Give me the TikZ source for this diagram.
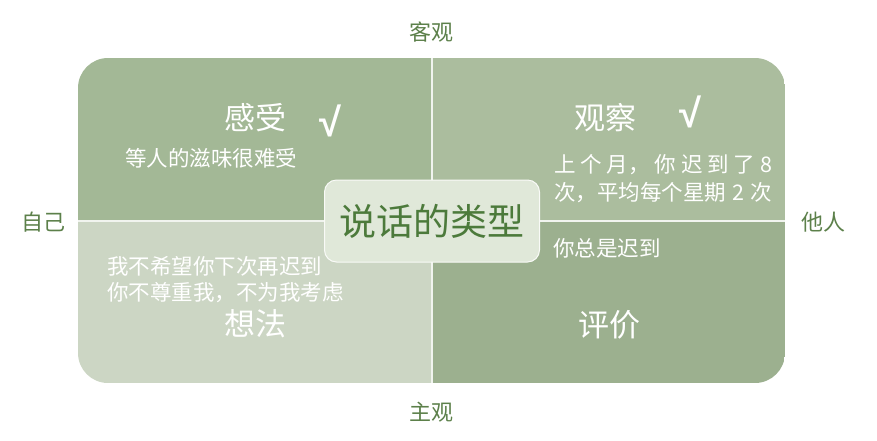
\documentclass[tikz,border=0pt]{standalone}
\usepackage{fontspec}
\setmainfont{Noto Sans CJK SC}
\newfontfamily\checkfont{Liberation Sans}
\usepackage{tikz}
\usetikzlibrary{positioning}
\definecolor{sagedark}{rgb}{0.64,0.72,0.59}
\definecolor{sagelight}{rgb}{0.67,0.74,0.62}
\definecolor{sagepale}{rgb}{0.80,0.84,0.77}
\definecolor{sagedeep}{rgb}{0.61,0.69,0.56}
\definecolor{mistgreen}{rgb}{0.88,0.91,0.85}
\definecolor{leafgreen}{rgb}{0.30,0.48,0.23}
\definecolor{axisgreen}{rgb}{0.36,0.50,0.29}
\tikzset{
  heading/.style={
    text=white,
    inner sep=0pt,
    font=\fontsize{31}{34}\selectfont
  },
  check/.style={
    text=white,
    inner sep=0pt,
    font=\checkfont\bfseries\fontsize{40}{42}\selectfont
  },
  body/.style={
    text=white,
    inner sep=0pt,
    font=\fontsize{21.5}{24}\selectfont
  },
  axis/.style={
    text=axisgreen,
    inner sep=0pt,
    font=\fontsize{22}{24}\selectfont
  },
  core/.style={
    rounded corners=12pt,
    draw=white!80!mistgreen,
    line width=1pt,
    fill=mistgreen,
    text=leafgreen,
    minimum width=215pt,
    minimum height=82pt,
    inner sep=0pt,
    font=\fontsize{37}{40}\selectfont
  },
  divider/.style={
    white!85!sagedark,
    line width=1.5pt
  }
}

\begin{document}
\begin{tikzpicture}[x=1pt,y=-1pt]
\useasboundingbox (0,0) rectangle (877,440);
% four quarters inside one rounded frame
\begin{scope}
\clip[rounded corners=30pt] (78,58) rectangle (785,383);
\fill[sagedark] (78,58) rectangle (432,221);
\fill[sagelight] (432,58) rectangle (785,221);
\fill[sagepale] (78,221) rectangle (432,383);
\fill[sagedeep] (432,221) rectangle (785,383);
\end{scope}
\coordinate (ctop) at (432,58);
\coordinate (cbot) at (432,383);
\coordinate (cleft) at (78,221);
\coordinate (cright) at (785,221);
\draw[divider] (ctop) -- (cbot);
\draw[divider] (cleft) -- (cright);

\node[axis] (objective) at (431,32) {客观};
\node[axis] (subjective) at (431,412) {主观};
\node[axis] (self) at (43,222) {自己};
\node[axis] (others) at (823,222) {他人};

\node[heading] (feel) at (255,118) {感受};
\node[check] (feelok) at (330,121) {√};
\node[body] (feeltext) at (211,158) {等人的滋味很难受};

\node[heading] (observe) at (605,118) {观察};
\node[check] (observeok) at (690,112) {√};
\node[body,anchor=west] (obsline1) at (554,165) {\makebox[218pt][s]{上\hfil 个\hfil 月，\hfil 你\hfil 迟\hfil 到\hfil 了\hfil 8}};
\node[body,anchor=west] (obsline2) at (554,193) {\makebox[218pt][s]{次，平均每个星期 2 次}};

\node[body,anchor=west] (thinkline1) at (107,266) {我不希望你下次再迟到};
\node[body,anchor=west] (thinkline2) at (107,293) {你不尊重我，不为我考虑};
\node[heading] (think) at (255,324) {想法};

\node[body] (judgetext) at (607,248) {你总是迟到};
\node[heading] (judge) at (609,325) {评价};

\node[core] (types) at (432,221) {说话的类型};
\end{tikzpicture}
\end{document}
